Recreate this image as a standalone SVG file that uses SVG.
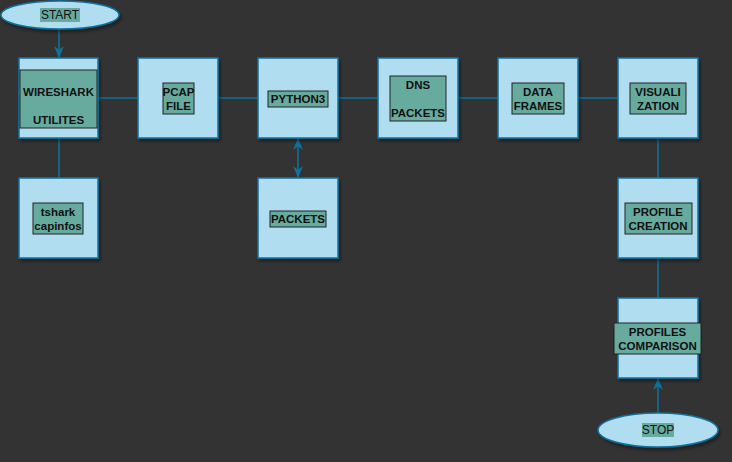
<svg xmlns="http://www.w3.org/2000/svg" width="732" height="462" viewBox="0 0 732 462">
<defs>
<style>
.box{fill:#b1ddf0;stroke:#10739e;stroke-width:1.5}
.lbl{fill:#67ab9f;stroke:#222;stroke-width:1}
.lbn{fill:#67ab9f;stroke:none}
.t{font-family:"Liberation Sans",sans-serif;font-size:11.5px;font-weight:bold;fill:#111;text-anchor:middle;dominant-baseline:central}
.tn{font-weight:normal;font-size:12px}
.c{stroke:#10739e;stroke-width:1.5;fill:none}
</style>
<marker id="ah" viewBox="0 0 10 10" refX="9" refY="5" markerWidth="8" markerHeight="8" orient="auto-start-reverse">
<path d="M0,1 L10,5 L0,9 L3,5 Z" fill="#10739e"/>
</marker>
<filter id="sh" x="-10%" y="-10%" width="130%" height="130%">
<feDropShadow dx="2" dy="3" stdDeviation="1.5" flood-color="#000" flood-opacity="0.35"/>
</filter>
</defs>
<rect width="732" height="462" fill="#333333"/>
<g id="connectors">
<line class="c" x1="59" y1="30" x2="59" y2="57" marker-end="url(#ah)"/>
<line class="c" x1="98" y1="98" x2="138" y2="98"/>
<line class="c" x1="218" y1="98" x2="258" y2="98"/>
<line class="c" x1="338" y1="98" x2="378" y2="98"/>
<line class="c" x1="458" y1="98" x2="498" y2="98"/>
<line class="c" x1="578" y1="98" x2="618" y2="98"/>
<line class="c" x1="59" y1="138" x2="59" y2="178"/>
<line class="c" x1="298" y1="139" x2="298" y2="177" marker-start="url(#ah)" marker-end="url(#ah)"/>
<line class="c" x1="658" y1="138" x2="658" y2="178"/>
<line class="c" x1="658" y1="258" x2="658" y2="298"/>
<line class="c" x1="658" y1="413" x2="658" y2="379" marker-end="url(#ah)"/>
</g>
<g id="start">
<ellipse class="box" cx="60" cy="15" rx="59" ry="14" filter="url(#sh)"/>
<rect class="lbn" x="40" y="8" width="40" height="14"/>
<text class="t tn" x="60" y="15">START</text>
</g>
<g id="wireshark">
<rect class="box" x="19" y="58" width="79" height="80" filter="url(#sh)"/>
<rect class="lbl" x="20" y="70" width="77" height="58"/>
<text class="t" x="58.5" y="92">WIRESHARK</text>
<text class="t" x="58.5" y="120">UTILITES</text>
</g>
<g id="pcap">
<rect class="box" x="138" y="58" width="80" height="80" filter="url(#sh)"/>
<rect class="lbl" x="163" y="83" width="31" height="31"/>
<text class="t" x="178.5" y="92">PCAP</text>
<text class="t" x="178.5" y="106">FILE</text>
</g>
<g id="python3">
<rect class="box" x="258" y="58" width="80" height="80" filter="url(#sh)"/>
<rect class="lbl" x="268" y="91" width="60" height="16"/>
<text class="t" x="298" y="99">PYTHON3</text>
</g>
<g id="dns">
<rect class="box" x="378" y="58" width="80" height="80" filter="url(#sh)"/>
<rect class="lbl" x="390" y="76" width="56" height="45"/>
<text class="t" x="418" y="85">DNS</text>
<text class="t" x="418" y="113">PACKETS</text>
</g>
<g id="dataframes">
<rect class="box" x="498" y="58" width="80" height="80" filter="url(#sh)"/>
<rect class="lbl" x="512" y="83" width="52" height="31"/>
<text class="t" x="538" y="92">DATA</text>
<text class="t" x="538" y="106">FRAMES</text>
</g>
<g id="visualization">
<rect class="box" x="618" y="58" width="80" height="80" filter="url(#sh)"/>
<rect class="lbl" x="630" y="83" width="56" height="31"/>
<text class="t" x="658" y="92">VISUALI</text>
<text class="t" x="658" y="106">ZATION</text>
</g>
<g id="tshark">
<rect class="box" x="19" y="178" width="79" height="80" filter="url(#sh)"/>
<rect class="lbl" x="33" y="203" width="50" height="31"/>
<text class="t" x="58" y="212">tshark</text>
<text class="t" x="58" y="226">capinfos</text>
</g>
<g id="packets">
<rect class="box" x="258" y="178" width="80" height="80" filter="url(#sh)"/>
<rect class="lbl" x="270" y="211" width="56" height="16"/>
<text class="t" x="298" y="219">PACKETS</text>
</g>
<g id="profilecreation">
<rect class="box" x="618" y="178" width="80" height="80" filter="url(#sh)"/>
<rect class="lbl" x="625" y="203" width="67" height="31"/>
<text class="t" x="658" y="212">PROFILE</text>
<text class="t" x="658" y="226">CREATION</text>
</g>
<g id="profilescomparison">
<rect class="box" x="618" y="298" width="80" height="80" filter="url(#sh)"/>
<rect class="lbl" x="614" y="323" width="87" height="31"/>
<text class="t" x="657.5" y="332">PROFILES</text>
<text class="t" x="657.5" y="346">COMPARISON</text>
</g>
<g id="stop">
<ellipse class="box" cx="658" cy="430" rx="60" ry="17" filter="url(#sh)"/>
<rect class="lbn" x="642" y="423" width="32" height="14"/>
<text class="t tn" x="658" y="430">STOP</text>
</g>
</svg>
